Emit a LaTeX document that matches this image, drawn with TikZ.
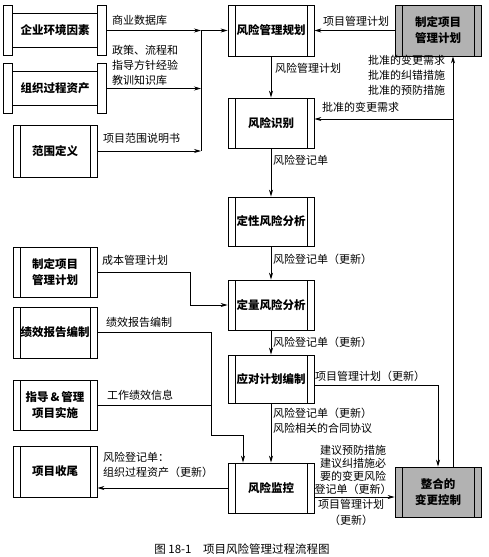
\documentclass[tikz,border=0pt]{standalone}
\usepackage{fontspec}
\setmainfont{Noto Sans CJK SC}
\usetikzlibrary{arrows.meta,positioning,calc}

\tikzset{
  arr/.style={-{Stealth[length=7pt,width=4pt]}},
  conn/.style={line width=0.7pt},
  boxline/.style={line width=0.8pt},
  procbox/.style={draw, boxline, minimum width=84pt, minimum height=50pt,
    inner sep=0pt, align=center, font=\fontsize{11.5}{16}\selectfont\bfseries,
    path picture={\draw[boxline]
      ([xshift=7pt]path picture bounding box.north west) -- ([xshift=7pt]path picture bounding box.south west)
      ([xshift=-7pt]path picture bounding box.north east) -- ([xshift=-7pt]path picture bounding box.south east);}},
  mainbox/.style={procbox, minimum width=86pt},
  shadebox/.style={mainbox, fill=black!30},
  scrollbox/.style={minimum width=102pt, minimum height=50pt, inner sep=0pt,
    align=center, font=\fontsize{11.5}{16}\selectfont\bfseries},
  lbl/.style={anchor=west, inner sep=0pt, align=left, font=\fontsize{11}{15}\selectfont}
}

\begin{document}
\begin{tikzpicture}[x=1pt,y=-1pt]
\useasboundingbox (0,0) rectangle (488,557);
% left inputs
\node[scrollbox] (env) at (55,30.5) {企业环境因素};
\node[scrollbox, minimum height=49pt] (org) at (55,88.5) {组织过程资产};
\foreach \n in {env,org}{
  \draw[boxline] (\n.north west) rectangle ([xshift=9pt]\n.south west);
  \draw[boxline] (\n.north east) rectangle ([xshift=-9pt]\n.south east);
  \draw[boxline] ([shift={(9pt,-8pt)}]\n.north west) -- ([shift={(-9pt,-8pt)}]\n.north east);
  \draw[boxline] ([shift={(9pt,8pt)}]\n.south west) -- ([shift={(-9pt,8pt)}]\n.south east);
}
\node[procbox, minimum height=52pt] (scope) at (55,151) {范围定义};
\node[procbox] (pmpL) at (55,272) {制定项目\\管理计划};
\node[procbox, minimum height=51pt] (perf) at (55,332.5) {绩效报告编制};
\node[procbox] (exec) at (55,405) {指导\,\&\,管理\\项目实施};
\node[procbox, minimum height=51pt] (close) at (55,471.5) {项目收尾};

% main column
\node[mainbox, minimum height=51pt] (plan) at (271,30.5) {风险管理规划};
\node[mainbox] (ident) at (271,123) {风险识别};
\node[mainbox, minimum height=49pt] (qual) at (271,221.5) {定性风险分析};
\node[mainbox] (quant) at (271,305) {定量风险分析};
\node[mainbox, minimum height=48pt] (resp) at (271,379) {应对计划编制};
\node[mainbox] (monitor) at (271,488) {风险监控};

% right column
\node[shadebox, minimum height=51pt] (pmp) at (438,30.5) {制定项目\\管理计划};
\node[shadebox] (integ) at (438,492) {整合的\\变更控制};

% bend points
\coordinate (jtop) at (201,30.5);
\coordinate (rline) at (453,0);
\coordinate (cbend) at (190,0);
\coordinate (pbend) at (211,435);

% connectors
\draw[conn,arr] (env.east) -- (jtop);
\draw[conn,arr] (org.east) -- (org.east -| jtop);
\draw[conn,arr] (scope.east) -- (scope.east -| jtop);
\draw[conn] (jtop) -- (scope.east -| jtop);
\draw[conn,arr] (jtop) -- (plan.west);
\draw[conn,arr] (pmp.west) -- (plan.east);
\draw[conn,arr] (plan.south) -- (ident.north);
\draw[conn,arr] (ident.south) -- (qual.north);
\draw[conn,arr] (qual.south) -- (quant.north);
\draw[conn,arr] (quant.south) -- (resp.north);
\draw[conn,arr] (resp.south) -- (monitor.north);
\draw[conn,arr] (integ.north -| rline) -- (pmp.south -| rline);
\draw[conn,arr] ([yshift=4pt]ident.east -| rline) -- ([yshift=4pt]ident.east);
\draw[conn,arr] (pmpL.east) -| (cbend |- quant.west) -- (quant.west);
\draw[conn] (perf.east) -| (pbend);
\draw[conn] (exec.east) -- (exec.east -| pbend);
\draw[conn,arr] (pbend) -| ([xshift=-28pt]monitor.north);
\draw[conn,arr] (monitor.west) -- (monitor.west -| close.east);
\draw[conn,arr] ([yshift=-6pt]resp.east) -| (integ.north);
\draw[conn,arr] ([yshift=-9pt]monitor.east) -- ([yshift=-9pt]monitor.east -| integ.west);

% labels
\node[lbl] (l1) at (112,20) {商业数据库};
\node[lbl, anchor=north west] (l2) at (112,45) {政策、流程和\\指导方针经验\\教训知识库};
\node[lbl] (l3) at (103,138) {项目范围说明书};
\node[lbl] (l4) at (323,21) {项目管理计划};
\node[lbl] (l5) at (275,68) {风险管理计划};
\node[lbl, anchor=north west] (l6) at (368,55) {批准的变更需求\\批准的纠错措施\\批准的预防措施};
\node[lbl] (l7) at (322,107) {批准的变更需求};
\node[lbl] (l8) at (273,160) {风险登记单};
\node[lbl] (l9) at (273,259) {风险登记单（更新）};
\node[lbl] (l10) at (102,260) {成本管理计划};
\node[lbl] (l11) at (106,322) {绩效报告编制};
\node[lbl] (l12) at (273,342) {风险登记单（更新）};
\node[lbl] (l13) at (315,376) {项目管理计划（更新）};
\node[lbl] (l14) at (107,395) {工作绩效信息};
\node[lbl, anchor=north west] (l15) at (273,408) {风险登记单（更新）\\风险相关的合同协议};
\node[lbl, anchor=north west] (l16) at (103,452) {风险登记单：\\组织过程资产（更新）};
\node[lbl, anchor=south, align=center, font=\fontsize{11}{13}\selectfont] (l17) at (353,495) {建议预防措施\\建议纠措施必\\要的变更风险\\登记单（更新）};
\node[lbl, anchor=north, align=center, font=\fontsize{11}{16}\selectfont] (l18) at (351,499) {项目管理计划\\（更新）};
\node[inner sep=0pt, font=\fontsize{11.5}{14}\selectfont] (cap) at (242,549) {图 18-1\quad 项目风险管理过程流程图};
\end{tikzpicture}
\end{document}
